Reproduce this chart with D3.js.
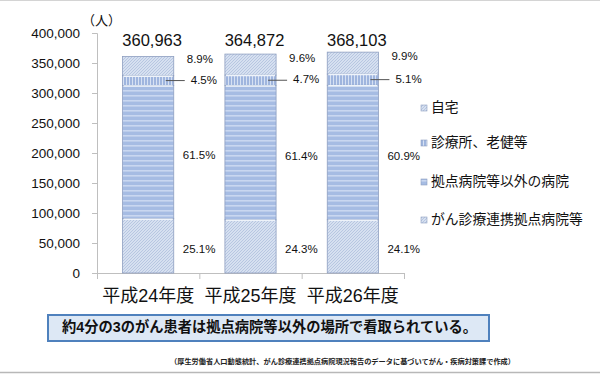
<!DOCTYPE html>
<html><head><meta charset="utf-8">
<script src="https://cdn.jsdelivr.net/npm/d3@7"></script>
<style>
html,body{margin:0;padding:0;background:#fff;}
svg{display:block;font-family:"Liberation Sans","Noto Sans CJK JP",sans-serif;}
</style></head>
<body><svg id="c" width="600" height="374"></svg>
<script>
const categories = ["平成24年度", "平成25年度", "平成26年度"];
const totals = [360963, 364872, 368103];
const seriesNames = ["がん診療連携拠点病院等", "拠点病院等以外の病院", "診療所、老健等", "自宅"];
const pctCancerHosp = [25.1, 24.3, 24.1];
const pctOtherHosp = [61.5, 61.4, 60.9];
const pctClinic = [4.5, 4.7, 5.1];
const pctHome = [8.9, 9.6, 9.9];
const yTicks = [0, 50000, 100000, 150000, 200000, 250000, 300000, 350000, 400000];
const unitLabel = "（人）";
const message = "約4分の3のがん患者は拠点病院等以外の場所で看取られている。";
const sourceNote = "（厚生労働省人口動態統計、がん診療連携拠点病院現況報告のデータに基づいてがん・疾病対策課で作成）";

const pctSeries = [pctCancerHosp, pctOtherHosp, pctClinic, pctHome];
const svg = d3.select("#c");

// borders
svg.append("line").attr("x1",0).attr("x2",600).attr("y1",0.5).attr("y2",0.5).attr("stroke","#d4d4d4");
svg.append("line").attr("x1",0).attr("x2",600).attr("y1",372.5).attr("y2",372.5).attr("stroke","#b8b8b8").attr("stroke-width",1.5);

// patterns
const defs = svg.append("defs");
function diag(id){
  const p = defs.append("pattern").attr("id",id).attr("patternUnits","userSpaceOnUse").attr("width",3).attr("height",3);
  p.append("rect").attr("width",3).attr("height",3).attr("fill","#d6e0f0");
  p.append("path").attr("d","M0,3 L3,0 M-1,1 L1,-1 M2,4 L4,2").attr("stroke","#aebfdd").attr("stroke-width",0.8);
}
diag("pDiag0"); diag("pDiag3");
const ph = defs.append("pattern").attr("id","pHoriz").attr("patternUnits","userSpaceOnUse").attr("width",6).attr("height",5);
ph.append("rect").attr("width",6).attr("height",5).attr("fill","#a6bce3");
ph.append("rect").attr("y",0).attr("width",6).attr("height",1.6).attr("fill","#c9d7f0");
const pv = defs.append("pattern").attr("id","pVert").attr("patternUnits","userSpaceOnUse").attr("width",3).attr("height",4);
pv.append("rect").attr("width",3).attr("height",4).attr("fill","#9fb5de");
pv.append("rect").attr("x",0).attr("width",1).attr("height",4).attr("fill","#d6e1f3");
const fills = ["url(#pDiag0)","url(#pHoriz)","url(#pVert)","url(#pDiag3)"];

const y = d3.scaleLinear().domain([0,400000]).range([273,33]);
const x = d3.scaleBand().domain(categories).range([97,404]).paddingInner(0.5).paddingOuter(0.25);

// y axis
const yAxis = svg.append("g").attr("transform","translate(97,0)")
  .call(d3.axisLeft(y).tickValues(yTicks).tickSize(5).tickPadding(12).tickFormat(d3.format(",")));
yAxis.select(".domain").attr("stroke","#bfbfbf");
yAxis.selectAll(".tick line").attr("stroke","#bfbfbf");
yAxis.selectAll("text").attr("font-size","13.5px").attr("fill","#111").attr("font-family","Liberation Sans, sans-serif");

svg.append("text").attr("x",82).attr("y",22).attr("dominant-baseline","middle")
  .attr("font-size","13px").attr("fill","#111").text(unitLabel);

// x axis
const xAxis = svg.append("g");
xAxis.append("line").attr("x1",97).attr("x2",404).attr("y1",273.5).attr("y2",273.5).attr("stroke","#bfbfbf");
const bounds = [0,1,2,3].map(i => 97 + i*(404-97)/3);
xAxis.selectAll("line.t").data(bounds).enter().append("line").attr("class","t")
  .attr("x1",d=>d+0.5).attr("x2",d=>d+0.5).attr("y1",273).attr("y2",279).attr("stroke","#bfbfbf");
xAxis.selectAll("text").data(categories).enter().append("text")
  .attr("x",d=>x(d)+x.bandwidth()/2).attr("y",297).attr("text-anchor","middle")
  .attr("dominant-baseline","middle").attr("font-size","18px").attr("fill","#111").text(d=>d);

// stacked bars
categories.forEach((cat,i)=>{
  let cum = 0;
  const segs = pctSeries.map((s,k)=>{
    const v0 = totals[i]*cum/100; cum += s[i]; const v1 = totals[i]*cum/100;
    return {k, v0, v1, p:s[i]};
  });
  const g = svg.append("g");
  g.selectAll("rect").data(segs).enter().append("rect")
    .attr("x",x(cat)).attr("width",x.bandwidth())
    .attr("y",d=>y(d.v1)).attr("height",d=>y(d.v0)-y(d.v1))
    .attr("fill",d=>fills[d.k]).attr("stroke","#8e9fc0").attr("stroke-width",0.8);
  g.selectAll("line.sep").data(segs.slice(1)).enter().append("line")
    .attr("x1",x(cat)+1).attr("x2",x(cat)+x.bandwidth()-1)
    .attr("y1",d=>y(d.v0)+0.5).attr("y2",d=>y(d.v0)+0.5).attr("stroke","#eef3fa").attr("stroke-width",1.5);
  const right = x(cat)+x.bandwidth();
  svg.append("text").attr("x",x(cat)+x.bandwidth()/2+4).attr("y",42).attr("text-anchor","middle")
    .attr("dominant-baseline","middle").attr("font-size","16.5px").attr("fill","#111").text(d3.format(",")(totals[i]));
  segs.forEach(d=>{
    const mid = (y(d.v0)+y(d.v1))/2;
    let lx = right+9, ly = mid+4;
    if (d.k===3){ lx = right+13; ly = mid-6; }
    if (d.k===2){
      lx = right+17; ly = mid;
      svg.append("line").attr("x1",right-8).attr("x2",right+11).attr("y1",mid).attr("y2",mid)
        .attr("stroke","#555").attr("stroke-width",1);
    }
    svg.append("text").attr("x",lx).attr("y",ly).attr("dominant-baseline","middle")
      .attr("font-size","11.5px").attr("fill","#111").text(d.p.toFixed(1)+"%");
  });
});

// legend
const legendY = [108,143,182,220];
const legOrder = [3,2,1,0];
legOrder.forEach((k,j)=>{
  svg.append("rect").attr("x",421).attr("y",legendY[j]-3).attr("width",6).attr("height",6)
    .attr("fill",fills[k]).attr("stroke","#8e9fc0").attr("stroke-width",0.6);
  svg.append("text").attr("x",431).attr("y",legendY[j]).attr("dominant-baseline","middle")
    .attr("font-size","13.8px").attr("fill","#111").text(seriesNames[k]);
});

// message box
svg.append("rect").attr("x",48).attr("y",315).attr("width",441).attr("height",26)
  .attr("fill","#dde8f5").attr("stroke","#4f81bd").attr("stroke-width",2);
svg.append("text").attr("x",62).attr("y",328.5).attr("dominant-baseline","middle")
  .attr("font-size","14.5px").attr("font-weight","bold").attr("fill","#111")
  .attr("textLength",415).attr("lengthAdjust","spacingAndGlyphs").text(message);

svg.append("text").attr("x",170).attr("y",362).attr("dominant-baseline","middle")
  .attr("font-size","7.3px").attr("font-weight","bold").attr("fill","#222")
  .attr("textLength",345).attr("lengthAdjust","spacingAndGlyphs").text(sourceNote);
</script></body></html>
